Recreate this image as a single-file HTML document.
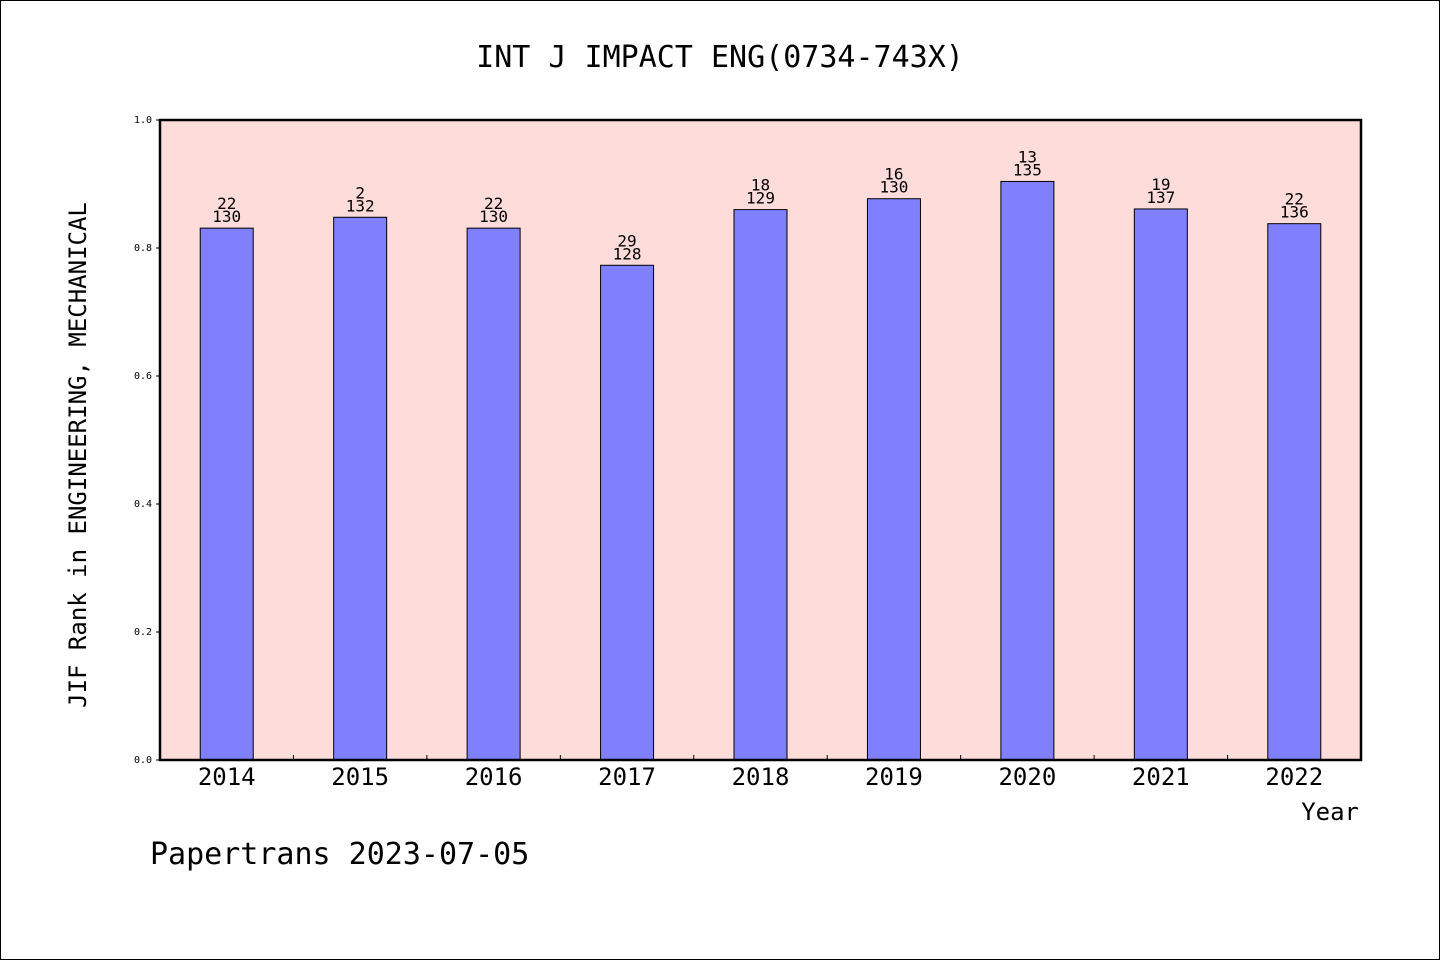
<!DOCTYPE html>
<html><head><meta charset="utf-8"><style>
html,body{margin:0;padding:0;background:#fff}
svg{display:block}
text{font-family:"WenQuanYi Zen Hei","DejaVu Sans Mono","Liberation Mono",monospace;fill:#000}
</style></head><body>
<svg id="chart" width="1440" height="960" xmlns="http://www.w3.org/2000/svg">
<rect x="0.5" y="0.5" width="1439" height="959" fill="#fff" stroke="#000"/>
<text x="720" y="67" font-size="30" text-anchor="middle">INT J IMPACT ENG(0734-743X)</text>
<rect x="160" y="120" width="1201" height="640" fill="#fddcda"/>
<g id="bars"></g>
<rect x="160" y="120" width="1201" height="640" fill="none" stroke="#000" stroke-width="2.5"/>
<text transform="translate(86,455) rotate(-90)" font-size="24" text-anchor="middle">JIF Rank in ENGINEERING, MECHANICAL</text>
<text x="1359" y="820" font-size="24" text-anchor="end">Year</text>
<text x="150" y="864" font-size="30">Papertrans 2023-07-05</text>
</svg>
<script>
const years=["2014","2015","2016","2017","2018","2019","2020","2021","2022"];
const values=[0.831,0.848,0.831,0.773,0.860,0.877,0.904,0.861,0.838];
const ranks=["22","2","22","29","18","16","13","19","22"];
const totals=["130","132","130","128","129","130","135","137","136"];
const yTicks=["0.0","0.2","0.4","0.6","0.8","1.0"];
const NS="http://www.w3.org/2000/svg";
const svg=document.getElementById('chart');
const g=document.getElementById('bars');
const x0=160,x1=1361,yTop=120,yBot=760;
const step=(x1-x0)/years.length;
const xc=i=>x0+step*(i+0.5);
const ys=v=>yBot-v*(yBot-yTop);
function mk(tag,attrs,parent){const e=document.createElementNS(NS,tag);for(const k in attrs)e.setAttribute(k,attrs[k]);(parent||g).appendChild(e);return e;}
years.forEach((y,i)=>{
  const bw=53;
  const r=mk('rect',{x:xc(i)-bw/2,y:ys(values[i]),width:bw,height:yBot-ys(values[i]),fill:'#8080ff',stroke:'#000','stroke-width':1});
  
  
  const t1=mk('text',{x:xc(i),y:ys(values[i])-19,'font-size':16,'text-anchor':'middle'});
  t1.textContent=ranks[i];
  
  
  const t2=mk('text',{x:xc(i),y:ys(values[i])-6,'font-size':16,'text-anchor':'middle'});
  t2.textContent=totals[i];
  
  
  const xl=mk('text',{x:xc(i),y:785,'font-size':24,'text-anchor':'middle'},svg);
  xl.textContent=y;
  
  
  if(i>0){
    const tk=mk('line',{x1:x0+step*i,x2:x0+step*i,y1:yBot,y2:yBot-5,stroke:'#000'},svg);
    
    
  }
});
yTicks.forEach(t=>{
  const y=ys(parseFloat(t));
  const l=mk('line',{x1:x0-4,x2:x0,y1:y,y2:y,stroke:'#000'},svg);
  
  
  const tx=mk('text',{x:x0-8,y:y+3,'font-size':10,'text-anchor':'end'},svg);
  tx.textContent=t;
  
  
});
</script>
</body></html>
